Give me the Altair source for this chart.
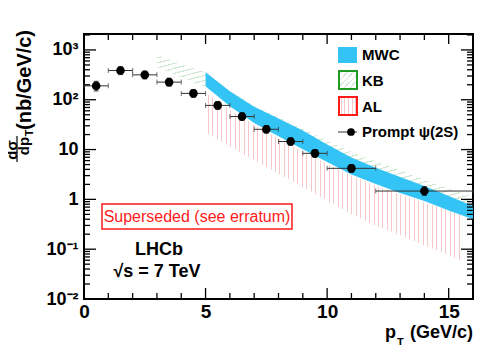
import altair as alt
import pandas as pd

# ---------------- data ----------------
pt = [0.5, 1.5, 2.5, 3.5, 4.5, 5.5, 6.5, 7.5, 8.5, 9.5, 11.0, 14.0]
pt_lo = [0, 1, 2, 3, 4, 5, 6, 7, 8, 9, 10, 12]
pt_hi = [1, 2, 3, 4, 5, 6, 7, 8, 9, 10, 12, 16]
xsec = [190, 386, 316, 226, 134, 77, 46, 25.5, 14.5, 8.4, 4.2, 1.47]
xsec_lo = [150, 320, 262, 188, 112, 64, 38.5, 21.5, 12.2, 7.0, 3.5, 1.2]
xsec_hi = [235, 460, 375, 270, 160, 92, 55, 30.5, 17.2, 10.0, 5.0, 1.8]

mwc_pt = [5, 6, 7, 8, 9, 10, 11, 12, 13, 14, 15, 16]
mwc_lo = [186, 74, 34, 18.6, 10.2, 5.6, 3.16, 2.04, 1.35, 0.93, 0.60, 0.40]
mwc_hi = [355, 148, 72, 42, 24, 12.6, 6.9, 4.3, 2.8, 1.86, 1.17, 0.74]

kb_pt = [3, 4, 5, 6, 7, 8, 9, 10, 11, 12, 13, 14, 15, 16]
kb_lo = [457, 282, 178, 79, 38, 20, 11.2, 6.3, 3.6, 2.3, 1.5, 1.0, 0.66, 0.45]
kb_hi = [794, 525, 355, 148, 76, 44, 26.3, 15.1, 8.9, 5.75, 3.8, 2.5, 1.66, 1.12]

al_pt = [5, 6, 7, 8, 9, 10, 11, 12, 13, 14, 15, 15.5]
al_lo = [21.9, 11.5, 6.2, 3.3, 1.78, 0.95, 0.51, 0.30, 0.19, 0.12, 0.076, 0.058]
al_hi = [138, 63, 31.6, 16.6, 9.1, 5.2, 3.0, 1.9, 1.26, 0.87, 0.60, 0.50]

x_major = [0, 5, 10, 15]
x_minor = [1, 2, 3, 4, 6, 7, 8, 9, 11, 12, 13, 14]
y_major = [0.01, 0.1, 1, 10, 100, 1000]
y_minor = [m * d for d in [0.01, 0.1, 1, 10, 100, 1000] for m in range(2, 10) if m * d < 2089]

legend_labels = ["MWC", "KB", "AL", "Prompt \u03c8(2S)"]

# ---------------- layout / style ----------------
W, H = 389, 265
FONT = "Liberation Sans"
BLUE = "#33c4f5"
PINK = "#f8c8c8"
GREEN = "#cfe8cf"
xs = alt.Scale(domain=[0, 16], nice=False, zero=False)
ys = alt.Scale(type="log", domain=[0.01, 2089], nice=False)

ylabels = ("datum.value < 0.05 ? '10\u207b\u00b2' : datum.value < 0.5 ? '10\u207b\u00b9' : "
           "datum.value < 5 ? '1' : datum.value < 50 ? '10' : datum.value < 500 ? '10\u00b2' : '10\u00b3'")
x_axis = alt.Axis(values=x_major, labelFlush=False, labelPadding=3, labelFontSize=19,
                  labelFont=FONT, labelFontWeight="bold", labelColor="black",
                  domain=False, ticks=False, grid=False, title=None)
y_axis = alt.Axis(values=y_major, labelExpr=ylabels, labelPadding=6, labelFontSize=18,
                  labelFont=FONT, labelFontWeight="bold", labelColor="black",
                  domain=False, ticks=False, grid=False, title=None)


def X(f):
    return alt.X(f, type="quantitative", scale=xs, axis=x_axis, title=None)


def Y(f):
    return alt.Y(f, type="quantitative", scale=ys, axis=y_axis, title=None)


def stripes(color, n, w, x2=1.0, y2=0.0):
    clear = "rgba(255,255,255,0)"
    stops = [alt.GradientStop(color=clear, offset=0)]
    for i in range(n):
        a = (i + 0.5) / n
        b = min(a + w, 1.0)
        stops += [alt.GradientStop(color=clear, offset=a),
                  alt.GradientStop(color=color, offset=a),
                  alt.GradientStop(color=color, offset=b),
                  alt.GradientStop(color=clear, offset=b)]
    stops.append(alt.GradientStop(color=clear, offset=1))
    return alt.LinearGradient(gradient="linear", stops=stops, x1=0, y1=0, x2=x2, y2=y2)


pts = pd.DataFrame({"pt": pt, "lo": pt_lo, "hi": pt_hi, "y": xsec, "ylo": xsec_lo, "yhi": xsec_hi})
hcaps = pd.DataFrame({"x": pt_lo + pt_hi, "y": xsec + xsec})
vcaps = pd.DataFrame({"x": pt + pt, "y": xsec_lo + xsec_hi})
mwc = pd.DataFrame({"x": mwc_pt, "lo": mwc_lo, "hi": mwc_hi})
kb = pd.DataFrame({"x": kb_pt, "lo": kb_lo, "hi": kb_hi})
al = pd.DataFrame({"x": al_pt, "lo": al_lo, "hi": al_hi})
one = pd.DataFrame({"a": [0]})

al_layer = alt.Chart(al).mark_area(fill=stripes(PINK, 57, 0.004), strokeWidth=0).encode(
    x=X("x"), y=Y("hi"), y2="lo")
kb_layer = alt.Chart(kb).mark_area(fill=stripes(GREEN, 80, 0.003, 1.0, 1.95), strokeWidth=0).encode(
    x=X("x"), y=Y("hi"), y2="lo")
mwc_layer = alt.Chart(mwc).mark_area(color=BLUE, opacity=1).encode(x=X("x"), y=Y("hi"), y2="lo")

hbar = alt.Chart(pts).mark_rule(color="#333333", strokeWidth=1).encode(x=X("lo"), x2="hi", y=Y("y"))
hcap = alt.Chart(hcaps).mark_tick(color="#333333", orient="vertical", size=5, thickness=1).encode(
    x=X("x"), y=Y("y"))
vbar = alt.Chart(pts).mark_rule(color="black", strokeWidth=1).encode(x=X("pt"), y=Y("ylo"), y2="yhi")
vcap = alt.Chart(vcaps).mark_tick(color="black", orient="horizontal", size=5, thickness=1).encode(
    x=X("x"), y=Y("y"))
points = alt.Chart(pts).mark_circle(color="black", size=75, opacity=1).encode(x=X("pt"), y=Y("y"))

dx_maj = pd.DataFrame({"v": x_major})
dx_min = pd.DataFrame({"v": x_minor})
dy_maj = pd.DataFrame({"v": y_major})
dy_min = pd.DataFrame({"v": y_minor})
tk = dict(color="black", strokeWidth=1.3)
ticks = [
    alt.Chart(dx_maj).mark_rule(**tk).encode(x=X("v"), y=alt.value(H), y2=alt.value(H - 11)),
    alt.Chart(dx_min).mark_rule(**tk).encode(x=X("v"), y=alt.value(H), y2=alt.value(H - 6)),
    alt.Chart(dx_maj).mark_rule(**tk).encode(x=X("v"), y=alt.value(0), y2=alt.value(10)),
    alt.Chart(dx_min).mark_rule(**tk).encode(x=X("v"), y=alt.value(0), y2=alt.value(6)),
    alt.Chart(dy_maj).mark_rule(**tk).encode(y=Y("v"), x=alt.value(0), x2=alt.value(12)),
    alt.Chart(dy_min).mark_rule(**tk).encode(y=Y("v"), x=alt.value(0), x2=alt.value(6)),
    alt.Chart(dy_maj).mark_rule(**tk).encode(y=Y("v"), x=alt.value(W), x2=alt.value(W - 12)),
    alt.Chart(dy_min).mark_rule(**tk).encode(y=Y("v"), x=alt.value(W), x2=alt.value(W - 6)),
]


def txt(s, x, y, size, **kw):
    props = dict(text=s, font=FONT, fontSize=size, color="black", fontWeight="bold")
    props.update(kw)
    return alt.Chart(one).mark_text(**props).encode(x=alt.value(x), y=alt.value(y))


annots = [
    # y title
    txt("d\u03c3", -72.5, 116, 15, angle=270),
    alt.Chart(one).mark_rule(color="black", strokeWidth=1.2).encode(
        x=alt.value(-67), y=alt.value(102), y2=alt.value(128)),
    txt("dp", -60, 112, 15, angle=270),
    txt("T", -54, 99, 11, angle=270),
    txt("(nb/GeV/c)", -59, 46, 20, angle=270),
    # x title
    txt("(GeV/c)", W, 304, 18, align="right", baseline="alphabetic"),
    txt("p", 312, 304, 18, align="right", baseline="alphabetic"),
    txt("T", 313, 312, 11, align="left", baseline="alphabetic"),
    # superseded box
    alt.Chart(one).mark_rect(fillOpacity=0, stroke="#ff1a1a", strokeWidth=1.5).encode(
        x=alt.value(18), x2=alt.value(208), y=alt.value(170), y2=alt.value(195)),
    txt("Superseded (see erratum)", 113, 183, 16, color="#ff1a1a", fontWeight="normal"),
    # LHCb
    txt("LHCb", 75, 216, 18),
    txt("\u221as = 7 TeV", 73, 238, 18),
    # legend
    alt.Chart(one).mark_rect(color=BLUE).encode(
        x=alt.value(254), x2=alt.value(273), y=alt.value(13), y2=alt.value(29)),
    alt.Chart(one).mark_rect(fill=stripes(GREEN, 6, 0.04, 1.0, 1.0), stroke="#1f9a1f", strokeWidth=2).encode(
        x=alt.value(255), x2=alt.value(273), y=alt.value(37), y2=alt.value(55)),
    alt.Chart(one).mark_rect(fill=stripes(PINK, 5, 0.05), stroke="#ff1a1a", strokeWidth=2).encode(
        x=alt.value(255), x2=alt.value(273), y=alt.value(63), y2=alt.value(81)),
    alt.Chart(one).mark_rule(color="#333333", strokeWidth=1).encode(
        x=alt.value(254), x2=alt.value(273), y=alt.value(98)),
    alt.Chart(one).mark_circle(color="black", size=60, opacity=1).encode(
        x=alt.value(267), y=alt.value(98)),
]
for lab, yy in zip(legend_labels, [21, 46.5, 72.5, 98]):
    annots.append(txt(lab, 278, yy, 15, align="left"))

chart = alt.layer(
    al_layer, kb_layer, mwc_layer, hbar, hcap, vbar, vcap, points, *ticks, *annots
).properties(
    width=W, height=H,
    autosize=alt.AutoSizeParams(type="none"),
    padding={"left": 76, "top": 26, "right": 17, "bottom": 46},
).configure_view(
    stroke="black", strokeWidth=2
)

chart.save("out.html", embed_options={"renderer": "svg", "actions": False})
